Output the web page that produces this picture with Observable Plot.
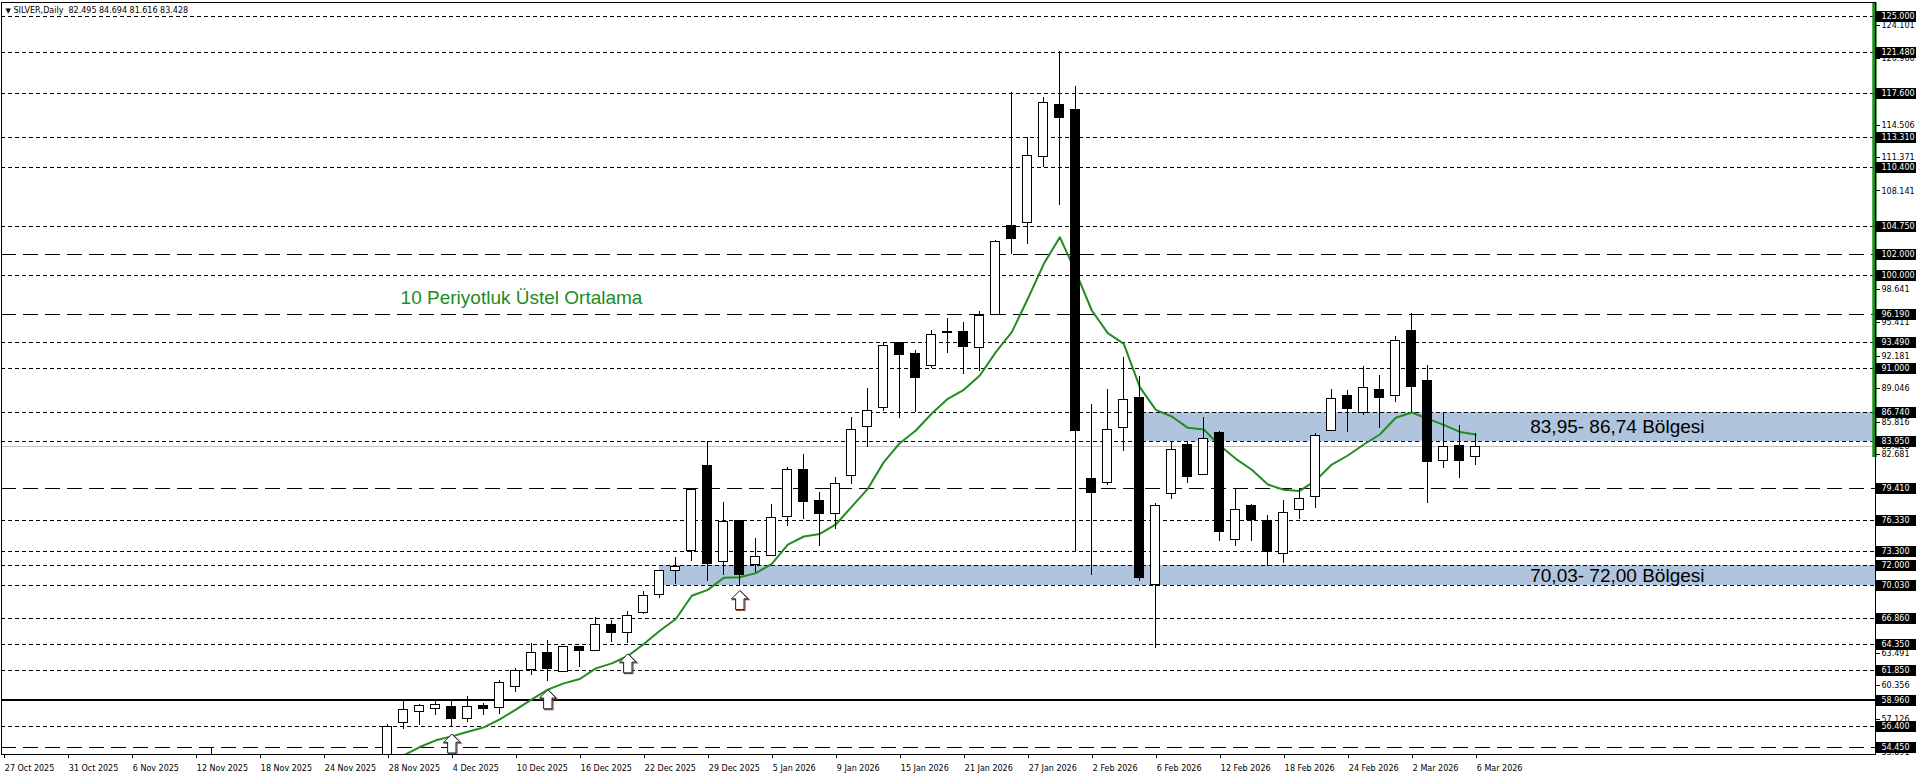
<!DOCTYPE html>
<html><head><meta charset="utf-8">
<script src="https://cdn.jsdelivr.net/npm/d3@7"></script>
<script src="https://cdn.jsdelivr.net/npm/@observablehq/plot@0.6"></script>
<style>
html,body{margin:0;padding:0;background:#fff;overflow:hidden}
</style></head><body><div id="chart"></div>
<script>
// ---------------- DATA ----------------
const firstBar = 24; // bar index of 28 Nov 2025 (27 Oct 2025 = 0)
const open  = [53.40,56.77,57.80,58.09,58.31,57.16,58.44,58.22,60.28,61.89,63.53,61.66,64.11,63.72,66.23,65.46,67.39,69.13,71.45,73.39,
               81.60,72.30,76.32,72.04,72.88,76.68,81.21,78.22,76.97,80.63,85.37,87.20,93.45,92.42,91.26,94.50,94.54,92.99,96.18,104.74,
               105.06,111.40,116.46,115.98,80.35,79.96,85.27,88.20,70.11,78.90,83.66,80.73,84.73,74.46,77.77,76.23,73.11,77.29,78.64,84.98,
               88.36,86.72,88.94,88.36,94.64,89.84,82.08,83.56,82.495];
const high  = [56.61,58.80,58.60,58.99,58.83,59.31,58.70,60.86,62.05,64.40,64.72,64.20,64.15,66.91,66.65,67.52,69.45,71.54,72.75,79.38,
               83.95,78.03,76.35,74.55,77.84,81.41,82.70,79.00,80.44,86.24,89.04,93.48,93.50,92.74,94.67,95.80,95.41,96.54,103.36,117.62,
               113.27,117.13,121.60,118.20,87.53,88.97,92.03,90.23,77.94,83.89,83.89,86.27,84.89,79.38,77.84,76.81,78.26,79.38,84.69,88.97,
               88.87,91.16,90.29,94.06,96.28,91.26,86.72,85.50,84.694];
const low   = [53.20,56.19,56.51,57.54,56.42,56.83,57.54,57.64,59.73,61.34,60.79,61.60,62.14,63.70,64.56,64.40,67.20,68.81,70.14,72.40,
               70.46,71.01,70.05,71.33,72.80,75.78,76.42,73.84,75.42,79.80,83.34,86.88,86.20,86.72,90.97,92.48,90.39,90.74,96.10,101.97,
               103.00,110.38,106.77,73.36,71.05,79.70,83.02,70.47,63.94,78.32,79.93,80.70,74.33,73.85,74.33,71.92,72.21,76.39,77.45,84.95,
               84.85,86.46,85.17,87.75,86.78,77.93,81.38,80.41,81.616];
const close = [56.42,58.02,58.38,58.51,57.12,58.31,58.09,60.63,61.79,63.53,61.95,64.11,63.69,66.20,65.43,67.07,69.00,71.45,71.85,79.28,
               72.14,76.19,71.04,72.78,76.58,81.21,78.09,76.93,79.83,85.08,86.91,93.19,92.29,90.07,94.25,94.45,93.06,96.08,103.23,103.49,
               111.53,116.65,115.17,84.95,78.96,85.08,87.98,70.76,77.74,83.15,80.51,84.21,75.20,77.29,76.42,73.33,77.07,78.42,84.47,88.07,
               87.07,89.13,88.13,93.67,89.20,81.95,83.43,82.05,83.428];
// 10-period EMA, same bars
const ema   = [53.00,53.65,54.45,55.10,55.48,55.93,56.35,57.12,58.06,59.05,59.99,60.60,61.02,62.05,62.53,63.24,64.40,65.68,66.81,69.06,
               69.63,70.79,70.85,71.24,72.14,74.00,74.78,75.03,75.94,77.67,79.38,81.96,83.79,85.01,86.65,88.07,88.94,90.32,92.58,94.51,
               97.73,101.11,103.68,100.30,96.60,94.41,93.38,89.20,87.01,86.37,85.27,85.11,83.57,82.28,81.22,79.80,79.29,79.18,80.20,81.73,
               82.60,83.66,84.63,86.24,86.75,86.14,85.56,84.88,84.63];
// earlier bar whose wick tip shows at the bottom edge (13 Nov 2025)
const earlyBar = {i: 13, o: 53.30, h: 54.40, l: 50.90, c: 51.30};

const tickBars   = [0,4,8,12,16,20,24,28,32,36,40,44,48,52,56,60,64,68,72,76,80,84,88,92];
const tickLabels = ["27 Oct 2025","31 Oct 2025","6 Nov 2025","12 Nov 2025","18 Nov 2025","24 Nov 2025","28 Nov 2025",
                    "4 Dec 2025","10 Dec 2025","16 Dec 2025","22 Dec 2025","29 Dec 2025","5 Jan 2026","9 Jan 2026",
                    "15 Jan 2026","21 Jan 2026","27 Jan 2026","2 Feb 2026","6 Feb 2026","12 Feb 2026","18 Feb 2026",
                    "24 Feb 2026","2 Mar 2026","6 Mar 2026"];

const dottedLevels = [125.000,121.480,117.600,113.310,110.400,104.750,100.000,93.490,91.000,86.740,83.950,
                      76.330,73.300,72.000,70.030,66.860,64.350,61.850,56.400];
const dashedLevels = [102.000,96.190,79.410,54.450];
const solidLevels  = [58.960];
const boxedLevels  = [125.000,121.480,117.600,113.310,110.400,104.750,102.000,100.000,96.190,93.490,91.000,86.740,
                      83.950,79.410,76.330,73.300,72.000,70.030,66.860,64.350,61.850,58.960,56.400,54.450];
const plainTicks   = [124.101,120.966,114.506,111.371,108.141,98.641,95.411,92.181,89.046,85.816,83.428,82.681,
                      63.491,60.356,57.126,53.891];
const bidPrice = 83.428;

const zoneFromBar = [71, 41];
const zoneLow     = [83.95, 70.03];
const zoneHigh    = [86.74, 72.00];
const zoneLabels  = ["83,95- 86,74 Bölgesi", "70,03- 72,00 Bölgesi"];

const arrowBars   = [28, 34, 39, 46];
const arrowPrices = [55.71, 59.98, 63.45, 69.56];

const emaLabel  = "10 Periyotluk Üstel Ortalama";
const header    = "SILVER,Daily  82.495 84.694 81.616 83.428";
const greenBarLow = 82.40;

// ---------------- LAYOUT ----------------
const W = 1916, H = 775;
const mL = 1, mR = 41, mT = 2, mB = 21;
const xDomain = [-0.144, 116.98];
const yDomain = [53.73, 126.34];
const xRight = xDomain[1];
const barPx = (W - mL - mR) / (xDomain[1] - xDomain[0]);
const xFar = xRight + mR / barPx;
const bodyHalf = 4.5 / barPx;
const GREEN = "#228B22";

const bars = open.map((o, k) => ({i: firstBar + k, o, h: high[k], l: low[k], c: close[k]}));
bars.unshift(earlyBar);
const emaData = ema.map((v, k) => ({i: firstBar + k, v}));
const zones = zoneLabels.map((label, k) => ({from: zoneFromBar[k], lo: zoneLow[k], hi: zoneHigh[k], label}));
const arrows = arrowBars.map((b, k) => ({i: b, p: arrowPrices[k]}));

const labelBar = 95.4;          // annotation anchor (bar index)
const emaLabelAnchor = {i: 24.8, p: 97.85};

const arrowSymbol = {
  draw(ctx, size) {
    const s = Math.sqrt(size / Math.PI) / 8;
    const pts = [[0,0],[8.3,8.3],[4.2,8.3],[4.2,19],[-4.2,19],[-4.2,8.3],[-8.3,8.3]];
    ctx.moveTo(pts[0][0]*s, pts[0][1]*s);
    for (const p of pts.slice(1)) ctx.lineTo(p[0]*s, p[1]*s);
    ctx.closePath();
  }
};

const chart = Plot.plot({
  width: W, height: H,
  marginLeft: mL, marginRight: mR, marginTop: mT, marginBottom: mB,
  style: {fontFamily: "DejaVu Sans", fontSize: "8px", background: "white", color: "black", overflow: "visible"},
  x: {type: "linear", domain: xDomain, label: null},
  y: {type: "linear", domain: yDomain, label: null},
  marks: [
    Plot.rect(zones, {x1: "from", x2: () => xRight, y1: "lo", y2: "hi", fill: "#B0C4DE", shapeRendering: "crispEdges"}),
    Plot.ruleY(dottedLevels, {stroke: "black", strokeWidth: 1, strokeDasharray: "4,3", shapeRendering: "crispEdges"}),
    Plot.ruleY(dashedLevels, {stroke: "black", strokeWidth: 1, strokeDasharray: "15,7", shapeRendering: "crispEdges"}),
    Plot.ruleY(solidLevels, {stroke: "black", strokeWidth: 2, shapeRendering: "crispEdges"}),
    Plot.ruleY([bidPrice], {stroke: "#C0C0C0", strokeWidth: 1, shapeRendering: "crispEdges"}),
    Plot.line(emaData, {x: "i", y: "v", stroke: GREEN, strokeWidth: 2, clip: true}),
    Plot.ruleX(bars, {x: "i", y1: "l", y2: "h", stroke: "black", strokeWidth: 1, clip: true, shapeRendering: "crispEdges"}),
    Plot.rect(bars, {x1: d => d.i - bodyHalf, x2: d => d.i + bodyHalf, y1: "o", y2: "c",
      fill: d => d.c >= d.o ? "white" : "black", stroke: "black", strokeWidth: 1, clip: true, shapeRendering: "crispEdges"}),
    Plot.dot(arrows, {x: "i", y: "p", symbol: arrowSymbol, r: 8, fill: "none", stroke: "#a0522d", strokeWidth: 1.2, dx: 1, dy: 0.8}),
    Plot.dot(arrows, {x: "i", y: "p", symbol: arrowSymbol, r: 8, fill: "white", stroke: "#1a1a33", strokeWidth: 1}),
    Plot.text([emaLabel], {x: () => emaLabelAnchor.i, y: () => emaLabelAnchor.p, text: d => d, fill: GREEN,
      fontFamily: "Liberation Sans", fontSize: 19, textAnchor: "start"}),
    Plot.text(zones, {x: () => labelBar, y: d => (d.lo + d.hi) / 2, text: "label", fill: "black",
      fontFamily: "Liberation Sans", fontSize: 19, textAnchor: "start"}),
    Plot.text(["\u25BC"], {frameAnchor: "top-left", dx: 4, dy: 6, text: d => d, fontSize: 7, textAnchor: "start", lineAnchor: "top"}),
    Plot.text([header], {frameAnchor: "top-left", dx: 12, dy: 5, text: d => d, textAnchor: "start", lineAnchor: "top"}),
    Plot.rect([0], {x1: () => xRight - 2.7 / barPx, x2: () => xRight + 1.7 / barPx, y1: () => greenBarLow, y2: () => yDomain[1], fill: GREEN}),
    Plot.frame({stroke: "black", strokeWidth: 1, shapeRendering: "crispEdges"}),
    Plot.axisY(plainTicks, {anchor: "right", tickSize: 4, tickPadding: 2, tickFormat: d => d.toFixed(3), shapeRendering: "crispEdges"}),
    Plot.ruleY(boxedLevels, {x1: () => xRight + 1 / barPx, x2: () => xFar, stroke: "black", strokeWidth: 11, shapeRendering: "crispEdges"}),
    Plot.text(boxedLevels, {x: () => xRight, y: d => d, dx: 6, text: d => d.toFixed(3), fill: "white", textAnchor: "start"}),
    Plot.axisX(tickBars, {anchor: "bottom", tickSize: 4, tickPadding: 7, tickFormat: d => tickLabels[tickBars.indexOf(d)],
      textAnchor: "start", dx: 1, shapeRendering: "crispEdges"})
  ]
});
document.getElementById("chart").appendChild(chart);
</script>
</body></html>
